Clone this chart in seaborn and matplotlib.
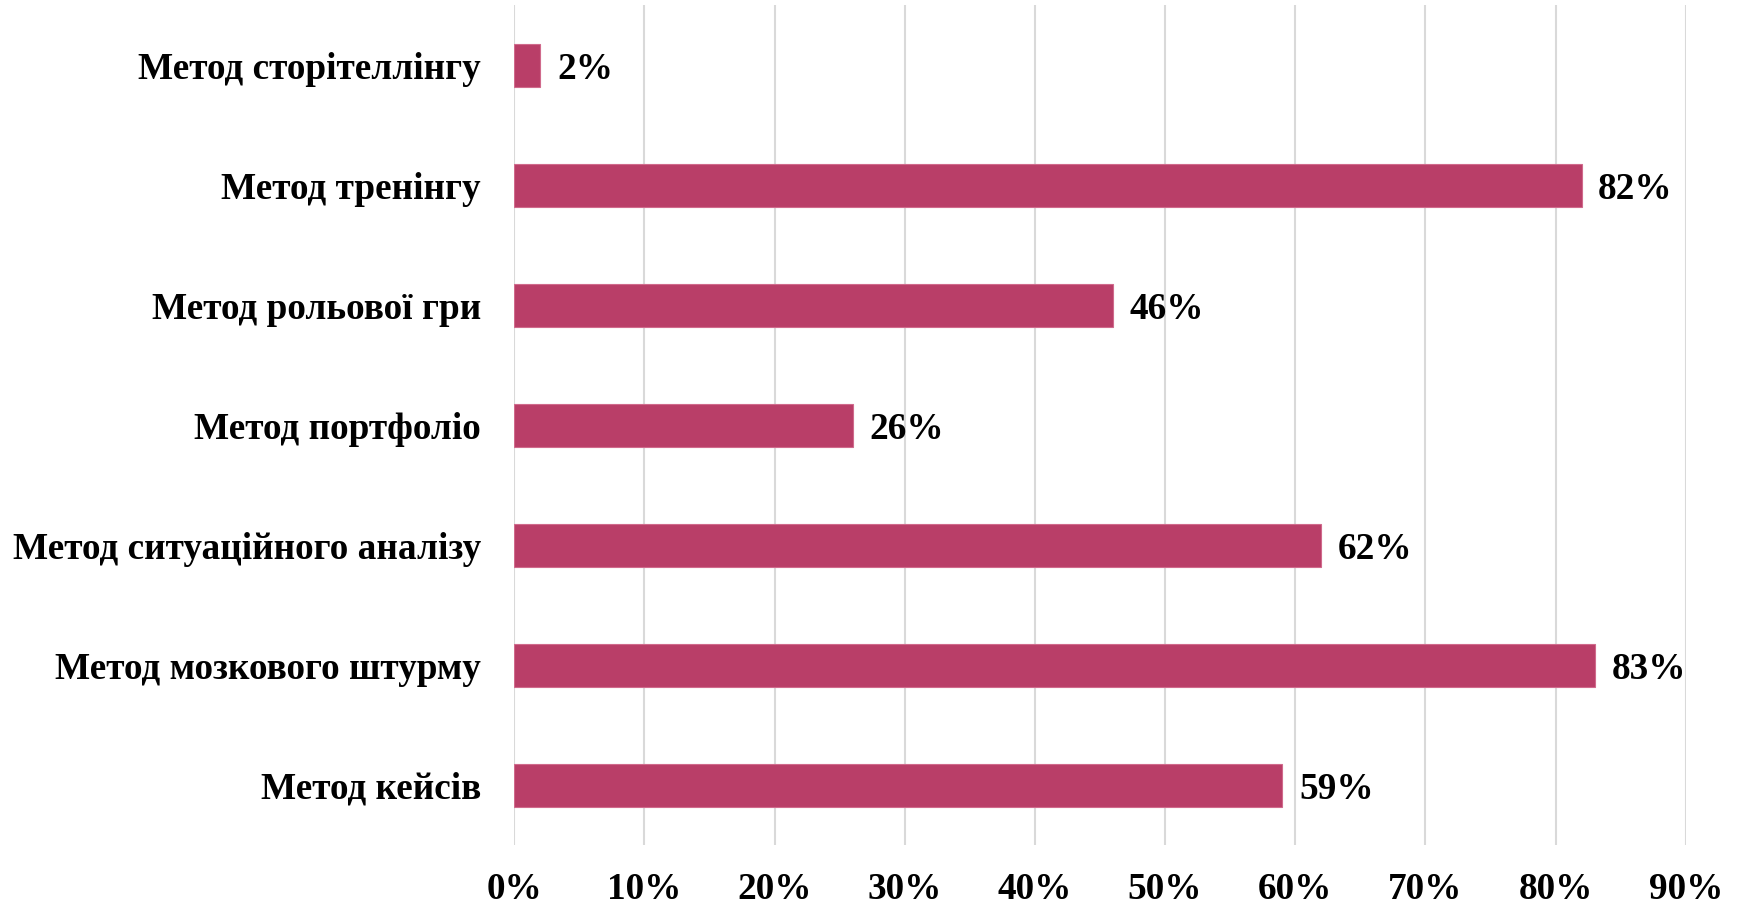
import matplotlib
matplotlib.use("Agg")
import matplotlib.pyplot as plt
import seaborn as sns
import pandas as pd

categories = [
    "Метод сторітеллінгу",
    "Метод тренінгу",
    "Метод рольової гри",
    "Метод портфоліо",
    "Метод ситуаційного аналізу",
    "Метод мозкового штурму",
    "Метод кейсів",
]
values = [2, 82, 46, 26, 62, 83, 59]
tick_values = [0, 10, 20, 30, 40, 50, 60, 70, 80, 90]
tick_labels = [f"{v}%" for v in tick_values]

sns.set_theme(style="white")
plt.rcParams["font.family"] = ["Liberation Serif", "DejaVu Serif"]
plt.rcParams["font.weight"] = "bold"
plt.rcParams["text.color"] = "black"
plt.rcParams["xtick.color"] = "black"
plt.rcParams["ytick.color"] = "black"

df = pd.DataFrame({"cat": categories, "val": values})

fig = plt.figure(figsize=(17.38, 9.06), dpi=100)
ax = fig.add_axes([514.3 / 1738, (906 - 845.3) / 906, (1685.7 - 514.3) / 1738, 840 / 906])

bar_color = "#B93E68"
sns.barplot(data=df, x="val", y="cat", orient="h", color=bar_color, width=0.356,
            edgecolor="#D06A8C", linewidth=0.8, saturation=1, ax=ax, zorder=3)

fs = 26.8
ax.set_xlim(0, 90)
ax.set_ylim(6.5, -0.5)
ax.set_xticks(tick_values)
ax.set_xticklabels(tick_labels, fontsize=fs, fontweight="bold", color="black")
ax.set_yticks(range(len(categories)))
ax.set_yticklabels(categories, fontsize=fs, fontweight="bold", color="black")
ax.tick_params(axis="x", length=0, pad=19)
ax.tick_params(axis="y", length=0, pad=24)
ax.set_xlabel("")
ax.set_ylabel("")
ax.grid(axis="x", color="#D9D9D9", linewidth=1.5, zorder=0)
ax.grid(axis="y", visible=False)
for s in ax.spines.values():
    s.set_visible(False)

for c in ax.containers:
    texts = ax.bar_label(c, labels=[f"{v}%" for v in values], padding=12,
                         fontsize=fs, fontweight="bold", color="black")
    for t in texts:
        t.set_va("center_baseline")

fig.savefig("out.png", dpi=100)
